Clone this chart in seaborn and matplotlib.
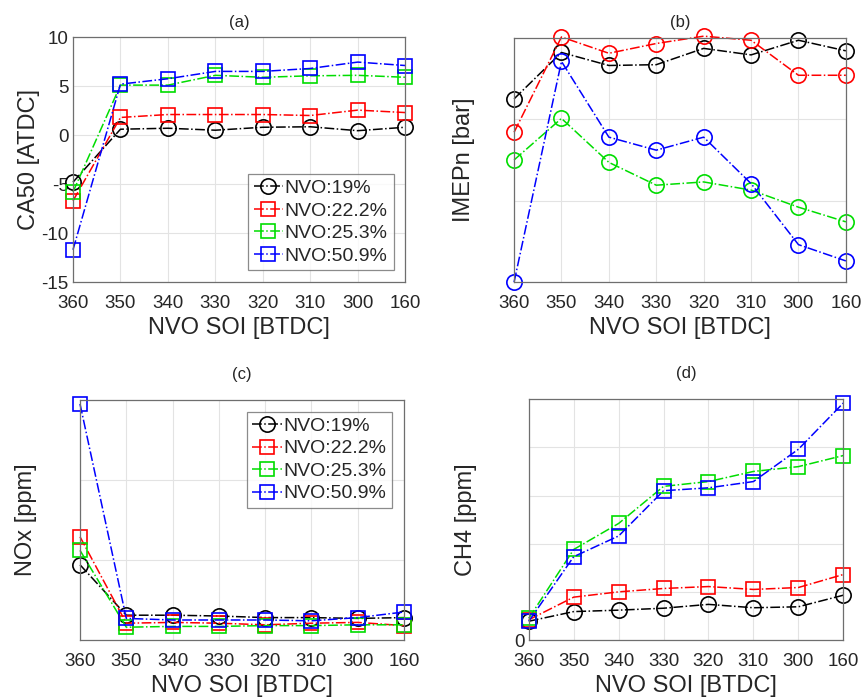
import numpy as np
import pandas as pd
import matplotlib
matplotlib.use("Agg")
import matplotlib.pyplot as plt
import seaborn as sns

# ---------------- data ----------------
soi_labels = ["360", "350", "340", "330", "320", "310", "300", "160"]
series_names = ["NVO:19%", "NVO:22.2%", "NVO:25.3%", "NVO:50.9%"]
series_colors = ["#000000", "#ff0000", "#00dd00", "#0000ff"]

# (a) CA50 [ATDC]
ca50_19 = [-4.8, 0.6, 0.7, 0.5, 0.8, 0.85, 0.45, 0.8]
ca50_222 = [-6.7, 1.8, 2.1, 2.1, 2.1, 2.0, 2.55, 2.3]
ca50_253 = [-5.8, 5.1, 5.1, 6.1, 5.9, 6.05, 6.1, 5.9]
ca50_509 = [-11.7, 5.2, 5.75, 6.5, 6.5, 6.8, 7.45, 7.1]

# (b) IMEPn (tick labels hidden in the original; relative units)
imep_19 = [2.25, 2.82, 2.66, 2.67, 2.87, 2.79, 2.97, 2.84]
imep_222 = [1.84, 3.01, 2.81, 2.93, 3.02, 2.97, 2.54, 2.54]
imep_253 = [1.50, 2.01, 1.47, 1.19, 1.23, 1.13, 0.92, 0.74]
imep_509 = [0.0, 2.71, 1.78, 1.62, 1.78, 1.21, 0.46, 0.26]

# (c) NOx (relative units)
nox_19 = [0.94, 0.31, 0.31, 0.30, 0.28, 0.28, 0.27, 0.28]
nox_222 = [1.29, 0.21, 0.22, 0.21, 0.19, 0.21, 0.22, 0.18]
nox_253 = [1.12, 0.16, 0.17, 0.17, 0.18, 0.18, 0.19, 0.19]
nox_509 = [2.95, 0.27, 0.25, 0.25, 0.25, 0.24, 0.28, 0.35]

# (d) CH4 (relative units)
ch4_19 = [0.39, 0.59, 0.62, 0.66, 0.74, 0.67, 0.69, 0.93]
ch4_222 = [0.42, 0.89, 1.00, 1.07, 1.11, 1.05, 1.09, 1.36]
ch4_253 = [0.45, 1.88, 2.42, 3.19, 3.29, 3.50, 3.60, 3.83]
ch4_509 = [0.39, 1.73, 2.16, 3.10, 3.16, 3.29, 3.96, 4.92]

# ---------------- style ----------------
sns.set_theme(style="whitegrid")
plt.rcParams["font.family"] = ["Liberation Sans", "DejaVu Sans"]
plt.rcParams["axes.edgecolor"] = "#6e6e6e"
plt.rcParams["grid.color"] = "#e3e3e3"
plt.rcParams["grid.linewidth"] = 0.8

fig = plt.figure(figsize=(8.64, 7.0), dpi=100)
fig.patch.set_facecolor("white")

positions = {
    "a": [0.0845, 0.597, 0.3845, 0.350],
    "b": [0.595, 0.597, 0.384, 0.349],
    "c": [0.0926, 0.0857, 0.375, 0.343],
    "d": [0.612, 0.0857, 0.364, 0.344],
}

x_pos = np.arange(len(soi_labels))


def draw_panel(key, title, ylabel, series, markers, ylim, yticks, yticklabels,
               ylabelpad, titlepad, legend_loc=None):
    ax = fig.add_axes(positions[key])
    ax.set_facecolor("white")
    for name, vals, col, mk in zip(series_names, series, series_colors, markers):
        df = pd.DataFrame({"x": x_pos, "y": vals})
        ms = 11 if mk == "o" else 9.5
        sns.lineplot(data=df, x="x", y="y", ax=ax, color=col, marker=mk,
                     linestyle="-.", linewidth=1.1, markersize=ms,
                     markerfacecolor="none", markeredgecolor=col,
                     markeredgewidth=1.2, label=name, clip_on=False,
                     legend=False)
    ax.set_xlim(0, len(soi_labels) - 1)
    ax.set_xticks(x_pos)
    ax.set_xticklabels(soi_labels)
    ax.set_ylim(*ylim)
    ax.set_yticks(yticks)
    ax.set_yticklabels(yticklabels)
    ax.tick_params(axis="both", labelsize=13.5, direction="in", length=3,
                   color="#6e6e6e")
    ax.tick_params(axis="x", pad=9)
    ax.tick_params(axis="y", pad=3)
    ax.set_xlabel("NVO SOI [BTDC]", fontsize=17, labelpad=4)
    ax.set_ylabel(ylabel, fontsize=17, labelpad=ylabelpad)
    ax.set_title(title, fontsize=12, pad=titlepad)
    for sp in ax.spines.values():
        sp.set_linewidth(0.9)
        sp.set_color("#6e6e6e")
    ax.grid(True, color="#e3e3e3", linewidth=0.8)
    if legend_loc is not None:
        leg = ax.legend(loc=legend_loc, fontsize=14, handlelength=1.5,
                        handletextpad=0.1, borderpad=0.3, labelspacing=0.25,
                        frameon=True, fancybox=False, borderaxespad=0.6)
        leg.get_frame().set_edgecolor("#6e6e6e")
        leg.get_frame().set_linewidth(0.9)
    return ax


draw_panel("a", "(a)", "CA50 [ATDC]",
           [ca50_19, ca50_222, ca50_253, ca50_509],
           ["o", "s", "s", "s"], (-15, 10),
           [-15, -10, -5, 0, 5, 10], ["-15", "-10", "-5", "0", "5", "10"],
           ylabelpad=1, titlepad=7, legend_loc="lower right")

draw_panel("b", "(b)", "IMEPn [bar]",
           [imep_19, imep_222, imep_253, imep_509],
           ["o", "o", "o", "o"], (0, 3),
           [0, 1, 2, 3], ["", "", "", ""],
           ylabelpad=25, titlepad=8)

draw_panel("c", "(c)", "NOx [ppm]",
           [nox_19, nox_222, nox_253, nox_509],
           ["o", "s", "s", "s"], (0, 3),
           [0, 1, 2, 3], ["", "", "", ""],
           ylabelpad=28, titlepad=15, legend_loc="upper right")

draw_panel("d", "(d)", "CH4 [ppm]",
           [ch4_19, ch4_222, ch4_253, ch4_509],
           ["o", "s", "s", "s"], (0, 5),
           [0, 1, 2, 3, 4, 5], ["0", "", "", "", "", ""],
           ylabelpad=27, titlepad=15)

fig.savefig("out.png", dpi=100, facecolor="white")
